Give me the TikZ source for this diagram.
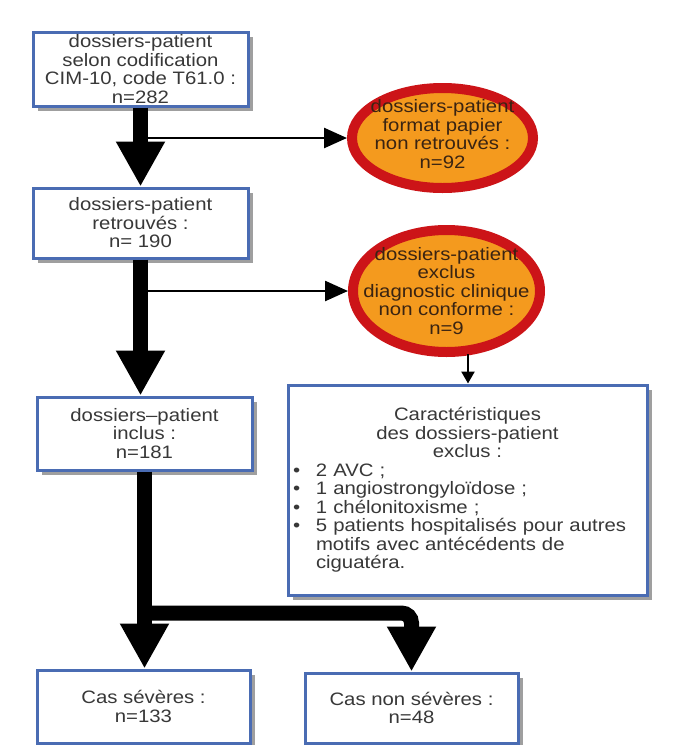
\documentclass[tikz,border=0pt]{standalone}
\usepackage{fontspec}
\setmainfont{Liberation Sans}[FakeStretch=1.13]
\usetikzlibrary{arrows.meta,shadows,shapes.geometric}
\definecolor{boxblue}{HTML}{4A6CB3}
\definecolor{txtgray}{HTML}{383838}
\definecolor{ellfill}{HTML}{F49A1E}
\definecolor{ellred}{HTML}{CC1418}
\definecolor{elltxt}{HTML}{3A2412}
\begin{document}
\begin{tikzpicture}[x=1pt,y=-1pt,
  font=\fontsize{18}{18.5}\selectfont,
  box/.style={draw=boxblue, line width=3pt, fill=white, inner sep=0pt,
    align=center, text=txtgray,
    drop shadow={shadow xshift=5pt, shadow yshift=-5pt, fill=gray!75, opacity=1}},
  ell/.style={ellipse, draw=ellred, line width=10pt, fill=ellfill, inner sep=0pt},
  elltext/.style={align=center, text=elltxt},
  thickarrow/.style={line width=15pt, -{Triangle[width=46pt,length=45pt]}},
  thickline/.style={line width=15pt},
  thinarrow/.style={line width=2.5pt, -{Triangle[width=20pt,length=23pt]}},
  smallarrow/.style={line width=2.5pt, -{Triangle[width=13pt,length=12pt]}}
]
\useasboundingbox[fill=white] (0,0) rectangle (677,745);

% boxes
\node[box, minimum width=215pt, minimum height=74pt] (b1) at (140.5,69)
  {dossiers-patient\\selon codification\\CIM-10, code T61.0 :\\n=282};
\node[box, minimum width=215pt, minimum height=70pt] (b2) at (140.5,223)
  {dossiers-patient\\retrouvés :\\n= 190};
\node[box, minimum width=215pt, minimum height=73pt] (b3) at (144.5,433.5)
  {dossiers–patient\\inclus :\\n=181};
\node[box, minimum width=359pt, minimum height=210pt, text width=349pt,
  align=left] (car) at (467.5,490)
  {{\centering Caractéristiques\\des dossiers-patient\\exclus :\par}
   \hangindent=23pt\hangafter=1\makebox[23pt][l]{•}2 AVC ;\par
   \hangindent=23pt\hangafter=1\makebox[23pt][l]{•}1 angiostrongyloïdose ;\par
   \hangindent=23pt\hangafter=1\makebox[23pt][l]{•}1 chélonitoxisme ;\par
   \hangindent=23pt\hangafter=1\makebox[23pt][l]{•}5 patients hospitalisés pour autres\newline
   motifs avec antécédents de\newline ciguatéra.\par};
\node[box, minimum width=213pt, minimum height=73pt] (b5) at (143.5,706.5)
  {Cas sévères :\\n=133};
\node[box, minimum width=213pt, minimum height=70pt] (b6) at (411.5,708)
  {Cas non sévères :\\n=48};

% ellipses
\node[ell, minimum width=181pt, minimum height=100pt,
  label={[elltext, yshift=4pt]center:{dossiers-patient\\format papier\\non retrouvés :\\n=92}}]
  (e1) at (442.5,138) {};
\node[ell, minimum width=187pt, minimum height=122pt,
  label={[elltext]center:{dossiers-patient\\exclus\\diagnostic clinique\\non conforme :\\n=9}}]
  (e2) at (446.5,291) {};

% thin arrows
\draw[thinarrow] (b1.south |- e1.west) -- (e1.west);
\draw[thinarrow] (b2.south |- e2.west) -- (e2.west);
\coordinate (e2b) at (468,354);
\draw[smallarrow] (e2b) -- (e2b |- car.north);

% thick arrows
\draw[thickarrow] (b1.south) -- (b2.north);
\draw[thickarrow] (b2.south) -- (b2.south |- b3.north);
\draw[thickarrow] (b3.south) -- (b3.south |- b5.north);
\coordinate (br) at (b3.south |- 0,613);
\draw[thickarrow, rounded corners=10pt] ([xshift=-7.5pt]br) -| (b6.north);
\end{tikzpicture}
\end{document}
